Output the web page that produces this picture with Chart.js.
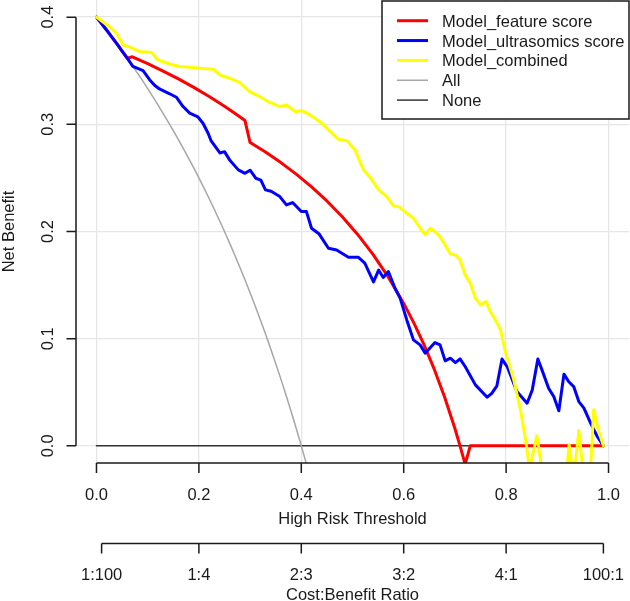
<!DOCTYPE html>
<html>
<head>
<meta charset="utf-8">
<title>Decision curve</title>
<script src="https://cdn.jsdelivr.net/npm/chart.js@4.4.1/dist/chart.umd.min.js"></script>
<style>
  html, body { margin: 0; padding: 0; background: #fff; overflow: hidden; }
  #wrap { width: 630px; height: 601px; position: relative; }
</style>
</head>
<body>
<div id="wrap"><canvas id="dcaChart"></canvas></div>
<script>
// series names / colours (legend order)
const seriesNames = ['Model_feature score', 'Model_ultrasomics score', 'Model_combined', 'All', 'None'];
const seriesColors = ['#ff0000', '#0000ff', '#ffff00', '#a6a6a6', '#333333'];

// net benefit (threshold -> net benefit)
const featureThreshold = [0, 0.01, 0.02, 0.03, 0.04, 0.05, 0.06, 0.07, 0.10, 0.13, 0.16, 0.19, 0.22, 0.25, 0.27, 0.29,
  0.30, 0.33, 0.36, 0.39, 0.42, 0.45, 0.48, 0.51, 0.54, 0.57, 0.60, 0.62, 0.64, 0.66, 0.68, 0.70, 0.71, 0.72, 0.73, 0.99];
const featureNetBenefit = [0.4, 0.3939, 0.3878, 0.3814, 0.375, 0.3684, 0.3617, 0.363, 0.3566, 0.3497, 0.3424, 0.3345, 0.326, 0.3169, 0.3103, 0.3035,
  0.283, 0.2741, 0.2643, 0.2535, 0.2416, 0.2285, 0.2138, 0.1973, 0.1786, 0.1574, 0.1329, 0.1145, 0.094, 0.0711, 0.0454, 0.0162, 0.0, -0.0171, 0, 0];

const ultraThreshold = [0, 0.01, 0.02, 0.03, 0.04, 0.05, 0.06, 0.071, 0.091, 0.104, 0.114, 0.123, 0.143, 0.156, 0.169, 0.182,
  0.198, 0.208, 0.218, 0.224, 0.241, 0.25, 0.26, 0.277, 0.29, 0.3, 0.311, 0.321, 0.33, 0.341, 0.358, 0.371, 0.383, 0.4,
  0.41, 0.42, 0.435, 0.453, 0.469, 0.492, 0.511, 0.524, 0.541, 0.551, 0.56, 0.57, 0.583, 0.593, 0.606, 0.619, 0.632, 0.642,
  0.661, 0.671, 0.681, 0.691, 0.701, 0.71, 0.72, 0.74, 0.763, 0.772, 0.782, 0.792, 0.802, 0.821, 0.841, 0.851, 0.862, 0.87,
  0.883, 0.893, 0.903, 0.913, 0.922, 0.932, 0.942, 0.952, 0.965, 0.978, 0.99];
const ultraNetBenefit = [0.4, 0.3939, 0.3878, 0.3814, 0.375, 0.3684, 0.3617, 0.354, 0.35, 0.3414, 0.3362, 0.333, 0.3285, 0.3253, 0.3166, 0.3105,
  0.307, 0.301, 0.2917, 0.2845, 0.2733, 0.2745, 0.2668, 0.2575, 0.2543, 0.2572, 0.2497, 0.248, 0.2388, 0.2375, 0.2326, 0.2248, 0.227, 0.2186,
  0.2186, 0.203, 0.1976, 0.1844, 0.1828, 0.176, 0.176, 0.1704, 0.153, 0.164, 0.157, 0.1626, 0.147, 0.1378, 0.1175, 0.0989, 0.0942, 0.0865,
  0.0964, 0.0942, 0.0793, 0.0818, 0.0777, 0.0812, 0.074, 0.0569, 0.0454, 0.049, 0.056, 0.081, 0.074, 0.0507, 0.0398, 0.052, 0.081, 0.0709,
  0.0538, 0.046, 0.0327, 0.0669, 0.06, 0.0553, 0.0413, 0.0352, 0.0212, 0.0087, 0];

const combinedThreshold = [0, 0.025, 0.039, 0.052, 0.065, 0.084, 0.107, 0.12, 0.143, 0.162, 0.182, 0.208, 0.228, 0.241, 0.26, 0.28,
  0.299, 0.319, 0.339, 0.358, 0.371, 0.388, 0.401, 0.417, 0.436, 0.453, 0.472, 0.489, 0.505, 0.521, 0.538, 0.551, 0.567, 0.58,
  0.59, 0.606, 0.619, 0.632, 0.642, 0.652, 0.668, 0.681, 0.691, 0.701, 0.71, 0.72, 0.73, 0.74, 0.75, 0.761, 0.769, 0.779, 0.789,
  0.799, 0.815, 0.828, 0.838, 0.846, 0.86, 0.87, 0.88, 0.91, 0.914, 0.923, 0.932, 0.942, 0.952, 0.963, 0.971, 0.981, 0.99];
const combinedNetBenefit = [0.4, 0.391, 0.385, 0.374, 0.372, 0.368, 0.367, 0.36, 0.3563, 0.354, 0.3533, 0.352, 0.3514, 0.346, 0.343, 0.339,
  0.3305, 0.3258, 0.3202, 0.3165, 0.318, 0.3118, 0.3128, 0.3088, 0.3025, 0.2948, 0.286, 0.2848, 0.276, 0.258, 0.248, 0.2388, 0.2326, 0.2239,
  0.2232, 0.217, 0.2124, 0.203, 0.1968, 0.203, 0.1968, 0.1875, 0.179, 0.178, 0.1735, 0.1595, 0.1518, 0.1378, 0.1315, 0.1346, 0.1253, 0.1175, 0.1082,
  0.087, 0.0616, 0.0336, 0.0056, -0.022, 0.0095, -0.022, -0.03, -0.03, -0.045, 0.001, -0.032, 0.0143, -0.032, -0.04, 0.0336, 0.0134, 0];

const allThreshold = [0, 0.01, 0.02, 0.03, 0.04, 0.05, 0.06, 0.07, 0.08, 0.09, 0.10, 0.11, 0.12, 0.13, 0.14, 0.15, 0.16, 0.17, 0.18, 0.19, 0.20,
  0.21, 0.22, 0.23, 0.24, 0.25, 0.26, 0.27, 0.28, 0.29, 0.30, 0.31, 0.32, 0.33, 0.34, 0.35, 0.36, 0.37, 0.38, 0.39, 0.40, 0.41, 0.42];
const allNetBenefit = [0.4, 0.3939, 0.3878, 0.3814, 0.375, 0.3684, 0.3617, 0.3548, 0.3478, 0.3407, 0.3333, 0.3258, 0.3182, 0.3103, 0.3023, 0.2941,
  0.2857, 0.2771, 0.2683, 0.2593, 0.25, 0.2405, 0.2308, 0.2208, 0.2105, 0.2, 0.1892, 0.1781, 0.1667, 0.1549, 0.1429, 0.1304, 0.1176, 0.1045,
  0.0909, 0.0769, 0.0625, 0.0476, 0.0323, 0.0164, 0, -0.0169, -0.0345];

const noneThreshold = [0, 0.99];
const noneNetBenefit = [0, 0];

// axes
const xTicks = [0, 0.2, 0.4, 0.6, 0.8, 1.0];
const xTickLabels = ['0.0', '0.2', '0.4', '0.6', '0.8', '1.0'];
const yTicks = [0, 0.1, 0.2, 0.3, 0.4];
const yTickLabels = ['0.0', '0.1', '0.2', '0.3', '0.4'];
const ratioTicks = [0.01, 0.2, 0.4, 0.6, 0.8, 0.99];
const ratioTickLabels = ['1:100', '1:4', '2:3', '3:2', '4:1', '100:1'];

const FONT = '16.5px "Liberation Sans", Arial, Helvetica, sans-serif';
const INK = '#1a1a1a';

function pairs(xs, ys) {
  return xs.map((x, i) => ({ x: x, y: ys[i] }));
}

// R-style axes, labels and boxed legend drawn on top
const rAxes = {
  id: 'rAxes',
  afterDraw(chart) {
    const ctx = chart.ctx;
    const xs = chart.scales.x;
    const ys = chart.scales.y;
    ctx.save();
    ctx.strokeStyle = INK;
    ctx.fillStyle = INK;
    ctx.lineWidth = 1.5;
    ctx.font = FONT;

    // y axis
    const yAxisX = chart.chartArea.left;
    ctx.beginPath();
    ctx.moveTo(yAxisX, ys.getPixelForValue(yTicks[0]));
    ctx.lineTo(yAxisX, ys.getPixelForValue(yTicks[yTicks.length - 1]));
    yTicks.forEach(v => {
      const py = ys.getPixelForValue(v);
      ctx.moveTo(yAxisX, py);
      ctx.lineTo(yAxisX - 9.5, py);
    });
    ctx.stroke();
    ctx.textAlign = 'center';
    ctx.textBaseline = 'alphabetic';
    yTicks.forEach((v, i) => {
      ctx.save();
      ctx.translate(52.5, ys.getPixelForValue(v));
      ctx.rotate(-Math.PI / 2);
      ctx.fillText(yTickLabels[i], 0, 0);
      ctx.restore();
    });
    ctx.save();
    ctx.translate(13.5, (chart.chartArea.top + chart.chartArea.bottom) / 2);
    ctx.rotate(-Math.PI / 2);
    ctx.fillText('Net Benefit', 0, 0);
    ctx.restore();

    // threshold axis
    const xAxisY = chart.chartArea.bottom;
    ctx.beginPath();
    ctx.moveTo(xs.getPixelForValue(xTicks[0]), xAxisY);
    ctx.lineTo(xs.getPixelForValue(xTicks[xTicks.length - 1]), xAxisY);
    xTicks.forEach(v => {
      const px = xs.getPixelForValue(v);
      ctx.moveTo(px, xAxisY);
      ctx.lineTo(px, xAxisY + 10);
    });
    ctx.stroke();
    xTicks.forEach((v, i) => ctx.fillText(xTickLabels[i], xs.getPixelForValue(v), 500));
    const midX = (xs.getPixelForValue(0) + xs.getPixelForValue(1)) / 2;
    ctx.fillText('High Risk Threshold', midX, 523.5);

    // cost:benefit axis
    const ratioY = 543.5;
    ctx.beginPath();
    ctx.moveTo(xs.getPixelForValue(ratioTicks[0]), ratioY);
    ctx.lineTo(xs.getPixelForValue(ratioTicks[ratioTicks.length - 1]), ratioY);
    ratioTicks.forEach(v => {
      const px = xs.getPixelForValue(v);
      ctx.moveTo(px, ratioY);
      ctx.lineTo(px, ratioY + 10);
    });
    ctx.stroke();
    ratioTicks.forEach((v, i) => ctx.fillText(ratioTickLabels[i], xs.getPixelForValue(v), 580));
    ctx.fillText('Cost:Benefit Ratio', midX, 600);

    // legend box
    const lx = 382, ly = 1, lw = 247, lh = 118;
    ctx.fillStyle = '#ffffff';
    ctx.fillRect(lx, ly, lw, lh);
    ctx.strokeStyle = INK;
    ctx.lineWidth = 1.5;
    ctx.strokeRect(lx, ly, lw, lh);
    ctx.textAlign = 'left';
    chart.data.datasets.forEach((ds, i) => {
      const rowY = 20.7 + 19.85 * i;
      ctx.strokeStyle = ds.borderColor;
      ctx.lineWidth = ds.borderWidth;
      ctx.beginPath();
      ctx.moveTo(397, rowY);
      ctx.lineTo(428, rowY);
      ctx.stroke();
      ctx.fillStyle = INK;
      ctx.fillText(ds.label, 442, rowY + 6);
    });
    ctx.restore();
  }
};

const curves = [
  pairs(featureThreshold, featureNetBenefit),
  pairs(ultraThreshold, ultraNetBenefit),
  pairs(combinedThreshold, combinedNetBenefit),
  pairs(allThreshold, allNetBenefit),
  pairs(noneThreshold, noneNetBenefit)
];
const widths = [3, 3, 3, 1.5, 1.5];
const drawOrder = [2, 1, 0, 3, 4]; // lower = drawn on top

const ctx = document.getElementById('dcaChart').getContext('2d');
const dcaChart = new Chart(ctx, {
  type: 'scatter',
  data: {
    datasets: curves.map((pts, i) => ({
      label: seriesNames[i],
      data: pts,
      showLine: true,
      borderColor: seriesColors[i],
      backgroundColor: seriesColors[i],
      borderWidth: widths[i],
      borderJoinStyle: 'round',
      borderCapStyle: 'round',
      pointRadius: 0,
      pointHoverRadius: 0,
      tension: 0,
      clip: 0,
      order: drawOrder[i]
    }))
  },
  options: {
    responsive: true,
    maintainAspectRatio: false,
    animation: false,
    layout: { padding: { left: 76, right: 1, top: 0, bottom: 138 } },
    plugins: {
      legend: { display: false },
      tooltip: { enabled: false }
    },
    scales: {
      x: {
        type: 'linear',
        min: -0.04,
        max: 1.04,
        afterBuildTicks: s => { s.ticks = xTicks.map(v => ({ value: v })); },
        ticks: { display: false },
        border: { display: false },
        grid: { color: '#e6e6e6', lineWidth: 1.3, drawTicks: false }
      },
      y: {
        type: 'linear',
        min: -0.016,
        max: 0.416,
        afterBuildTicks: s => { s.ticks = yTicks.map(v => ({ value: v })); },
        ticks: { display: false },
        border: { display: false },
        grid: { color: '#e6e6e6', lineWidth: 1.3, drawTicks: false }
      }
    }
  },
  plugins: [rAxes]
});
</script>
</body>
</html>
